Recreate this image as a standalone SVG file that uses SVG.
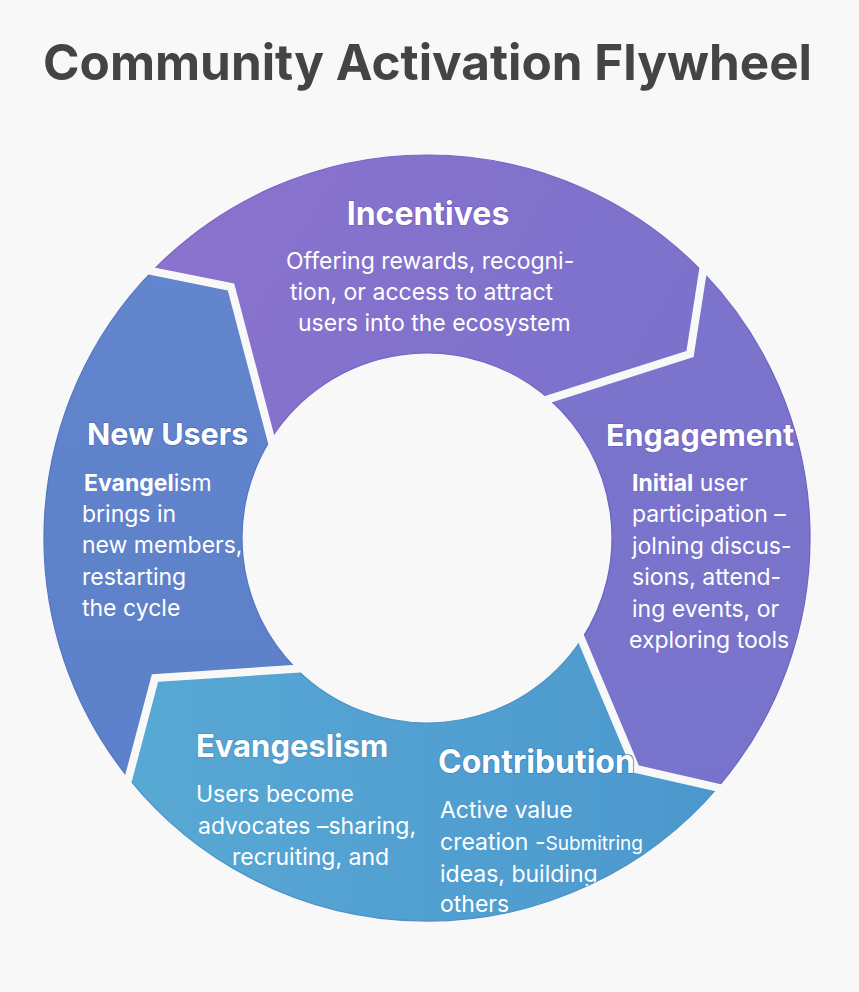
<svg xmlns="http://www.w3.org/2000/svg" width="859" height="992" viewBox="0 0 859 992">
<defs>
<linearGradient id="gInc" x1="0" y1="0" x2="1" y2="0.3"><stop offset="0" stop-color="#8C72CE"/><stop offset="1" stop-color="#7C72CC"/></linearGradient>
<linearGradient id="gEng" x1="0" y1="0" x2="0" y2="1"><stop offset="0" stop-color="#7C73CD"/><stop offset="1" stop-color="#7874CB"/></linearGradient>
<linearGradient id="gNew" x1="0" y1="0" x2="0" y2="1"><stop offset="0" stop-color="#6285CD"/><stop offset="1" stop-color="#5C80C9"/></linearGradient>
<linearGradient id="gBot" x1="0" y1="0" x2="1" y2="0"><stop offset="0" stop-color="#58A8D4"/><stop offset="1" stop-color="#4C98CE"/></linearGradient>
<clipPath id="ring"><circle cx="427" cy="538" r="383"/></clipPath>
<style>
.title{font-family:Inter,"Liberation Sans",sans-serif;font-weight:700;fill:#444444;}
.h{font-family:Inter,"Liberation Sans",sans-serif;font-weight:700;fill:#ffffff;paint-order:stroke;stroke-width:1.6;stroke-linejoin:round;}
.b{font-family:Inter,"Liberation Sans",sans-serif;font-weight:400;fill:#ffffff;font-size:23px;}
.bb{font-weight:700;}
.gap{fill:none;stroke:#f8f8f8;stroke-width:8;stroke-linejoin:miter;stroke-linecap:butt;}
.seg{stroke-width:1.2;}
</style>
</defs>
<rect width="859" height="992" fill="#f8f8f8"/>
<text class="title" x="427.5" y="80" font-size="50" text-anchor="middle" textLength="769" lengthAdjust="spacingAndGlyphs">Community Activation Flywheel</text>

<g id="node-new-users">
<path class="seg" fill="url(#gNew)" stroke="#5276C4" d="M128.5,778.1 A383,383 0 0 1 152.3,271.2 L231,287 L271,438.6 A185,185 0 0 0 296.2,668.8 L155,678 Z"/>
<text class="h" x="87" y="445" font-size="30.5" stroke="#4E6FB8">New Users</text>
<text class="b" x="84" y="491"><tspan class="bb">Evangel</tspan>ism</text>
<text class="b" x="82" y="522">brings in</text>
<text class="b" x="82" y="553">new members,</text>
<text class="b" x="82" y="585">restarting</text>
<text class="b" x="82" y="616">the cycle</text>
</g>

<g id="node-incentives">
<path class="seg" fill="url(#gInc)" stroke="#7766C2" d="M152.3,271.2 A383,383 0 0 1 702.8,272.2 L690,354 L549.1,399 A185,185 0 0 0 271,438.6 L231,287 Z"/>
<text class="h" x="428" y="225" font-size="32" text-anchor="middle" stroke="#7462BE">Incentives</text>
<text class="b" x="286" y="269">Offering rewards, recogni-</text>
<text class="b" x="290" y="300">tion, or access to attract</text>
<text class="b" x="298" y="331">users into the ecosystem</text>
</g>

<g id="node-engagement">
<path class="seg" fill="url(#gEng)" stroke="#6C64C2" d="M702.8,272.2 A383,383 0 0 1 717.6,787.5 L636,769 L581.5,639.7 A185,185 0 0 0 549.1,399 L690,354 Z"/>
<text class="h" x="606" y="446" font-size="30.5" stroke="#6A62BE">Engagement</text>
<text class="b" x="632" y="491"><tspan class="bb">Initial</tspan> user</text>
<text class="b" x="632" y="522">participation –</text>
<text class="b" x="632" y="554">jolning discus-</text>
<text class="b" x="632" y="585">sions, attend-</text>
<text class="b" x="632" y="617">ing events, or</text>
<text class="b" x="629" y="648">exploring tools</text>
</g>

<g id="node-evangelism-contribution">
<path class="seg" fill="url(#gBot)" stroke="#4A92C8" d="M717.6,787.5 A383,383 0 0 1 128.5,778.1 L155,678 L296.2,668.8 A185,185 0 0 0 581.5,639.7 L636,769 Z"/>
</g>

<g id="gaps">
<polyline class="gap" points="144.5,269.6 231,287 273,446.3"/>
<polyline class="gap" points="704,264.3 690,354 541.5,401.4"/>
<polyline class="gap" points="725.4,789.3 636,769 578.4,632.3"/>
<polyline class="gap" points="126.5,785.8 155,678 304.2,668.3"/>
</g>

<g id="node-evangelism">
<text class="h" x="196" y="757" font-size="31" stroke="#4A94C8">Evangeslism</text>
<text class="b" x="196" y="802">Users become</text>
<text class="b" x="198" y="834">advocates –sharing,</text>
<text class="b" x="232" y="865">recruiting, and</text>
</g>

<g id="node-contribution">
<text class="h" x="438" y="773" font-size="32" stroke="#3E88BE">Contribution</text>
<g clip-path="url(#ring)">
<text class="b" x="440" y="818">Active value</text>
<text class="b" x="440" y="850">creation -<tspan font-size="19">Submitring</tspan></text>
<text class="b" x="440" y="882">ideas, building</text>
<text class="b" x="440" y="912">others</text>
</g>
</g>
</svg>
